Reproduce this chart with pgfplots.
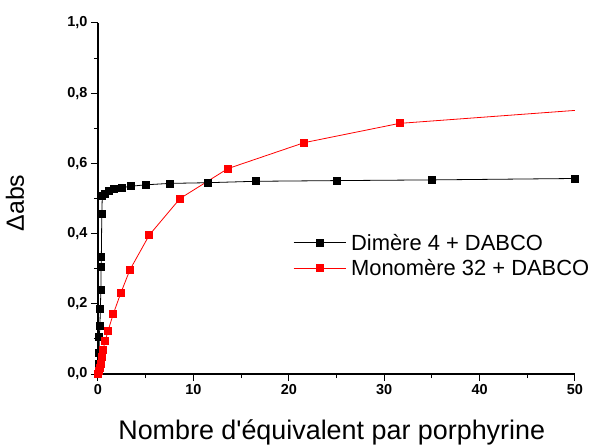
\documentclass[border=0pt]{standalone}
\usepackage{pgfplots}
\pgfplotsset{compat=1.18}
\usepackage{fontspec}
\setmainfont{Liberation Sans}[Ligatures=TeXOff]

% dimere 4 + DABCO
\pgfplotstableread{
x y
0 0
0.05 0.03
0.1 0.06
0.14 0.107
0.2 0.137
0.25 0.186
0.3 0.24
0.33 0.306
0.35 0.335
0.4 0.457
0.45 0.507
0.73 0.514
1.15 0.521
1.7 0.527
2.5 0.531
3.5 0.535
5.0 0.539
7.5 0.543
11.5 0.545
16.5 0.549
25 0.551
35 0.553
50 0.557
}\dimere

% monomere 32 + DABCO
\pgfplotstableread{
x y
0 0
0.1 0.008
0.2 0.016
0.31 0.03
0.4 0.048
0.54 0.07
0.75 0.094
1.05 0.123
1.6 0.171
2.38 0.23
3.35 0.297
5.38 0.396
8.6 0.50
13.6 0.585
21.6 0.659
31.6 0.714
}\monomere

\begin{document}
\begin{tikzpicture}
\begin{axis}[
  at={(0,0)}, anchor=south west,
  width=477bp, height=351bp, scale only axis,
  xmin=0, xmax=50, ymin=0, ymax=1.0,
  axis x line*=bottom, axis y line*=left,
  axis line style={line width=1.2bp},
  tick align=outside,
  major tick length=7bp, minor tick length=4bp,
  tick style={line width=1bp, black},
  xtick={0,10,20,30,40,50}, minor x tick num=1,
  ytick={0,0.2,0.4,0.6,0.8,1.0}, minor y tick num=1,
  ticklabel style={font=\bfseries\fontsize{14.5}{16}\selectfont},
  /pgf/number format/assume math mode=true,
  yticklabel style={/pgf/number format/.cd, fixed, fixed zerofill, precision=1, use comma},
  xticklabel style={/pgf/number format/.cd, fixed, precision=0},
  xlabel={Nombre d'équivalent par porphyrine},
  xlabel style={font=\fontsize{27}{30}\selectfont, at={(axis description cs:0.49,-0.186)}, anchor=base},
  ylabel={Δabs},
  ylabel style={font=\fontsize{25}{28}\selectfont, at={(axis description cs:-0.174,0.487)}, anchor=center, rotate=0},
  legend image code/.code={\draw[mark repeat=2,mark phase=2,#1] plot coordinates {(0bp,0bp)(26bp,0bp)(52bp,0bp)};},
  legend style={at={(0.409,0.405)}, anchor=north west, draw=none, fill=none,
    font=\fontsize{22}{24}\selectfont, legend cell align=left,
    row sep=3.5bp, inner sep=0pt,
    /tikz/every odd column/.append style={column sep=3bp}},
]
\addplot[black, line width=0.8bp, mark=square*, mark size=3.5bp, mark options={solid}] table[x=x,y=y]{\dimere};
\addlegendentry{Dimère 4 + DABCO}
\addplot[red, line width=0.8bp, forget plot] coordinates {(31.6,0.714) (55,0.761)};
\addplot[red, line width=0.8bp, mark=square*, mark size=3.5bp, mark options={solid}] table[x=x,y=y]{\monomere};
\addlegendentry{Monomère 32 + DABCO}
\end{axis}
\pgfresetboundingbox
\path (-98bp,-71bp) rectangle (493bp,374bp);
\end{tikzpicture}
\end{document}
